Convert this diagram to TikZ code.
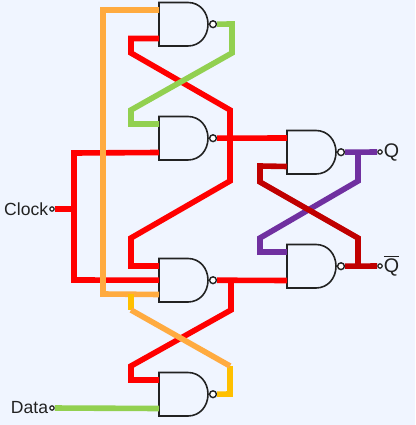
\documentclass[tikz,border=0pt]{standalone}
\usepackage{fontspec}
\setmainfont{Liberation Sans}
\usetikzlibrary{positioning}
\definecolor{pagebg}{RGB}{240,245,255}
\definecolor{wirered}{RGB}{255,0,0}
\definecolor{wiredark}{RGB}{192,0,0}
\definecolor{wireorange}{RGB}{255,171,64}
\definecolor{wireyellow}{RGB}{255,192,0}
\definecolor{wiregreen}{RGB}{146,208,80}
\definecolor{wirepurple}{RGB}{112,48,160}
\definecolor{inkgrey}{RGB}{34,34,34}
\tikzset{
	wire/.style={line width=1.4mm,line join=miter},
	bubble/.style={circle,draw=inkgrey,fill=white,line width=0.35mm,inner sep=0pt,minimum size=1.7mm},
	terminal/.style={circle,draw=inkgrey,fill=white,line width=0.3mm,inner sep=0pt,minimum size=1.1mm},
	pinlabel/.style={text=inkgrey,font=\fontsize{12.5}{14}\selectfont,inner sep=0pt},
	outlabel/.style={text=inkgrey,font=\fontsize{14}{16}\selectfont,inner sep=0pt},
	nandgate/.pic={
		\draw[draw=inkgrey,line width=0.4mm,fill=pagebg] (0,0) -- (29,0) .. controls (41,0) and (49,10) .. (49,21.7) .. controls (49,33.5) and (41,43.5) .. (29,43.5) -- (0,43.5) -- cycle;
		\node[bubble] (-bub) at (54,21.7) {};
		\coordinate (-a) at (0,7.5);
		\coordinate (-b) at (0,36);
		\coordinate (-mid) at (0,21.7);
	}
}
\begin{document}
\begin{tikzpicture}[x=0.25mm,y=-0.25mm]
	\fill[pagebg] (0,0) rectangle (415,425);
	\useasboundingbox (0,0) rectangle (415,425);

	% gates
	\pic (gA) at (159,2.5) {nandgate};
	\pic (gB) at (159,116.5) {nandgate};
	\pic (gC) at (159,258.5) {nandgate};
	\pic (gD) at (159,372.5) {nandgate};
	\pic (gE) at (287,130.5) {nandgate};
	\pic (gF) at (287,244.5) {nandgate};

	% pins
	\node[terminal] (clk) at (52,209) {};
	\node[terminal] (dat) at (52,408) {};
	\node[terminal] (q) at (380,152) {};
	\node[terminal] (qb) at (380,266) {};
	\node[pinlabel,left=0.2mm of clk] (clkl) {Clock};
	\node[pinlabel,left=0.2mm of dat] (datl) {Data};
	\node[outlabel,right=0.2mm of q] (ql) {Q};
	\node[outlabel,right=0.2mm of qb] (qbl) {$\overline{\mbox{Q}}$};

	% first stage
	\coordinate (clkj) at (74,209);
	\draw[wire,wirered] (clk) -- (clkj);
	\draw[wire,wirered] (gB-b) -- (74,153) -- (74,280) -- (gC-mid);
	\draw[wire,wirered] (gA-b) -- (131,38.5) -- (131,53) -- (230,110) -- (230,181) -- (131,238) -- (131,266) -- (gC-a);
	\draw[wire,wirered] (gB-bub) -- (gE-a);
	\draw[wire,wirered] (gD-a) -- (131,380) -- (131,366) -- (231,310) -- (231,281);
	\draw[wire,wirered] (gC-bub) -- (gF-b);
	\draw[wire,wiregreen] (gA-bub) -- (232,24) -- (232,53) -- (131,110) -- (131,124) -- (gB-a);
	\draw[wire,wiregreen] (dat) -- (gD-b);
	\draw[wire,wireorange] (gA-a) -- (103,10) -- (103,294) -- (gC-b);
	\draw[wire,wireyellow] (131,294) -- (131,310);
	\draw[wire,wireyellow] (gD-bub) -- (230,394) -- (230,366);
	\draw[wire,wireorange] (131,310) -- (230,366);

	% output latch
	\draw[wire,wirepurple] (gE-bub) -- (q);
	\draw[wire,wirepurple] (358,152) -- (358,181) -- (260,238) -- (260,252) -- (gF-a);
	\draw[wire,wiredark] (gE-b) -- (260,166) -- (260,182) -- (358,238) -- (358,266);
	\draw[wire,wiredark] (gF-bub) -- (qb);
\end{tikzpicture}
\end{document}
